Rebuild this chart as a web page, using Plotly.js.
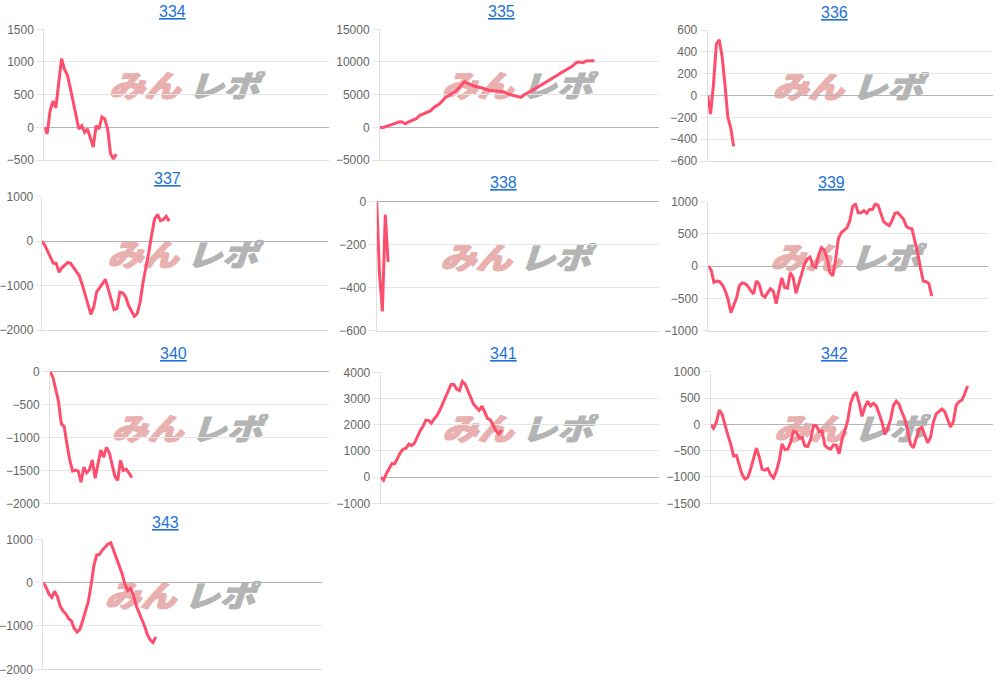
<!DOCTYPE html>
<html>
<head>
<meta charset="utf-8">
<script src="https://cdn.plot.ly/plotly-3.0.1.min.js"></script>
<style>
  html, body { margin: 0; padding: 0; background: #ffffff; }
  #chart { width: 997px; height: 681px; }
</style>
</head>
<body>
<div id="chart"></div>
<script>
// ---------------- data ----------------
const titles = ['334', '335', '336', '337', '338', '339', '340', '341', '342', '343'];

const s334 = [0, -100, 250, 400, 300, 660, 1050, 890, 800, 610, 400, 180, -25, 25, -75, -25, -180, -300, 25, -25, 160, 130, -25, -400, -485, -410];

const s335 = [0, -50, 100, 250, 400, 550, 650, 850, 800, 550, 800, 950, 1100, 1350, 1800, 2000, 2200, 2350, 2550, 3000,
  3300, 3550, 4000, 4500, 4750, 5000, 5300, 5600, 6050, 6500, 7000, 6750, 6500, 6350, 6250, 6200, 6050, 5900, 5750, 5600,
  5650, 5600, 5550, 5500, 5400, 5150, 5000, 4900, 4800, 4700, 4600, 4950, 5250, 5450, 5650, 5900, 6200, 6450, 6650, 6900,
  7150, 7450, 7700, 8000, 8300, 8550, 8800, 9000, 9300, 9700, 10000, 9950, 9900, 10150, 10200, 10200, 10200];

const s336 = [0, -170, 100, 470, 510, 360, 100, -200, -296, -464];

const s337 = [0, -80, -220, -370, -500, -500, -700, -600, -530, -480, -500, -600, -670, -780, -980, -1215, -1420, -1650, -1480, -1140,
  -1050, -940, -860, -1080, -1340, -1540, -1520, -1150, -1170, -1250, -1450, -1560, -1690, -1630, -1370, -930, -620, -250, 150, 500,
  600, 460, 480, 560, 450];

const s338 = [0, -340, -510, -60, -280];

const s339 = [0, -60, -250, -230, -240, -290, -380, -520, -720, -600, -490, -300, -260, -270, -310, -380, -430, -230, -280, -445,
  -480, -410, -350, -390, -580, -370, -180, -330, -340, -100, -175, -420, -280, -110, 30, 110, 140, 0, -20, 170,
  290, 250, 120, -100, -150, 100, 430, 520, 560, 595, 700, 920, 970, 830, 830, 860, 820, 880, 880, 960,
  950, 830, 690, 655, 630, 710, 820, 830, 780, 730, 620, 590, 580, 410, 210, -25, -230, -240, -270, -465];

const s340 = [0, -80, -260, -450, -790, -830, -1100, -1340, -1510, -1495, -1510, -1680, -1450, -1534, -1490, -1340, -1620, -1400, -1190, -1300,
  -1150, -1230, -1400, -1590, -1650, -1350, -1500, -1480, -1540, -1610];

const s341 = [0, -120, 130, 320, 520, 510, 720, 940, 1070, 1100, 1260, 1200, 1300, 1550, 1760, 1930, 2170, 2160, 2060, 2220,
  2350, 2550, 2810, 3020, 3310, 3535, 3535, 3360, 3300, 3650, 3550, 3290, 3020, 2780, 2660, 2550, 2710, 2500, 2230, 2180,
  1990, 1760, 1640, 1790];

const s342 = [0, -75, 40, 270, 190, -20, -200, -370, -600, -590, -765, -950, -1040, -1010, -850, -630, -450, -620, -850, -870,
  -840, -960, -1020, -890, -690, -370, -480, -470, -340, -130, -150, -260, -250, -410, -420, -290, -20, -30, -135, -125,
  -400, -450, -470, -390, -400, -560, -290, -120, 70, 400, 550, 610, 410, 150, 330, 440, 350, 400, 350, 200,
  40, -190, -80, 90, 360, 440, 380, 230, 100, -120, -380, -445, -280, -90, -60, -220, -350, -250, 40, 200,
  240, 290, 240, 80, -50, 50, 360, 430, 460, 580, 730];

const s343 = [0, -110, -260, -340, -200, -320, -540, -650, -720, -830, -885, -1060, -1140, -1080, -880, -640, -440, -50, 400, 640,
  650, 750, 830, 890, 920, 750, 580, 420, 210, -30, -180, -130, -280, -530, -690, -830, -1000, -1200, -1320, -1380,
  -1250];

const seriesList = [s334, s335, s336, s337, s338, s339, s340, s341, s342, s343];

const yMin = [-500, -5000, -600, -2000, -600, -1000, -2000, -1000, -1500, -2000];
const yMax = [1500, 15000, 600, 1000, 0, 1000, 0, 4000, 1000, 1000];
const yStep = [500, 5000, 200, 1000, 200, 500, 500, 1000, 500, 1000];
const slotCount = 100;

// ---------------- layout geometry (pixels) ----------------
const W = 997, H = 681;
// [left, right, top, bottom] of each plot area
const boxes = [
  [44.3, 329.3, 29.3, 160.0],
  [380.0, 659.3, 29.3, 160.0],
  [707.7, 992.7, 30.0, 161.0],
  [41.7, 328.3, 196.7, 330.0],
  [376.7, 659.3, 201.7, 330.7],
  [708.3, 988.3, 201.7, 330.7],
  [50.0, 329.3, 371.7, 503.3],
  [380.7, 659.3, 372.3, 503.3],
  [710.7, 993.3, 371.7, 503.3],
  [43.3, 321.7, 539.3, 669.3]
];
const tickLens = [7, 7, 7, 5, 7, 7, 7, 7, 7, 7];
const titlePos = [
  [172, 11], [502, 11], [834, 12],
  [167, 178], [503, 183], [831, 183],
  [173, 353], [503, 353], [834, 353],
  [165, 522]
];

const LINE = '#fd4f6d';
const GRID = '#e6e6e6';
const TICKTXT = '#666666';
const TITLE = '#1f72d4';
const FONT = 'Liberation Sans, Arial, sans-serif';

// watermark logo as an SVG image
const wmSvg =
  "<svg xmlns='http://www.w3.org/2000/svg' width='160' height='30' viewBox='0 0 160 30'>" +
  "<g transform='translate(9,0) skewX(-18)'>" +
  "<text x='1' y='27' font-family='Noto Sans CJK JP' font-weight='900' font-size='31' fill='#e9b0b0' stroke='#e9b0b0' stroke-width='1.6' stroke-linejoin='round' textLength='72' lengthAdjust='spacingAndGlyphs'>みん</text>" +
  "<text x='81' y='27' font-family='Noto Sans CJK JP' font-weight='900' font-size='31' fill='#b4b4b4' stroke='#b4b4b4' stroke-width='1.0' stroke-linejoin='round' textLength='72' lengthAdjust='spacingAndGlyphs'>レポ</text>" +
  "</g></svg>";
const wmSrc = 'data:image/svg+xml;charset=utf-8,' + encodeURIComponent(wmSvg);

const traces = [];
const layout = {
  width: W, height: H,
  margin: {l: 0, r: 0, t: 0, b: 0},
  paper_bgcolor: '#ffffff',
  plot_bgcolor: 'rgba(0,0,0,0)',
  showlegend: false,
  font: {family: FONT, size: 12, color: TICKTXT},
  annotations: [],
  images: []
};

seriesList.forEach((vals, k) => {
  const n = k + 1;
  const xa = n === 1 ? 'x' : 'x' + n;
  const ya = n === 1 ? 'y' : 'y' + n;
  const xKey = n === 1 ? 'xaxis' : 'xaxis' + n;
  const yKey = n === 1 ? 'yaxis' : 'yaxis' + n;
  const [l, r, t, b] = boxes[k];

  traces.push({
    type: 'scatter', mode: 'lines',
    x: vals.map((_, i) => i), y: vals,
    xaxis: xa, yaxis: ya,
    line: {color: LINE, width: 3, shape: 'linear'},
    hoverinfo: 'skip'
  });

  layout[xKey] = {
    domain: [l / W, r / W],
    anchor: ya,
    range: [0, slotCount - 1],
    showgrid: false, zeroline: false,
    showticklabels: false, ticks: '',
    showline: true, linecolor: '#dcdcdc', linewidth: 1,
    fixedrange: true
  };
  layout[yKey] = {
    domain: [1 - b / H, 1 - t / H],
    anchor: xa,
    range: [yMin[k], yMax[k]],
    tick0: 0, dtick: yStep[k],
    tickformat: 'd',
    showgrid: true, gridcolor: GRID, gridwidth: 1,
    zeroline: true, zerolinecolor: '#b4b4b4', zerolinewidth: 1,
    showline: true, linecolor: '#e0e0e0', linewidth: 1,
    ticks: 'outside', ticklen: tickLens[k], tickcolor: GRID,
    tickfont: {family: FONT, size: 12, color: TICKTXT},
    fixedrange: true
  };

  layout.annotations.push({
    xref: 'paper', yref: 'paper',
    x: titlePos[k][0] / W, y: 1 - titlePos[k][1] / H,
    xanchor: 'center', yanchor: 'middle',
    text: '<u>' + titles[k] + '</u>',
    showarrow: false,
    font: {family: FONT, size: 16, color: TITLE}
  });

  const cx = (l + r) / 2;
  const cy = (t + b) / 2 - 9;
  layout.images.push({
    source: wmSrc,
    xref: 'paper', yref: 'paper',
    x: cx / W, y: 1 - cy / H,
    sizex: 158 / W, sizey: 29 / H,
    xanchor: 'center', yanchor: 'middle',
    sizing: 'stretch',
    layer: 'below'
  });
});

Plotly.newPlot('chart', traces, layout, {displayModeBar: false, staticPlot: true});
</script>
</body>
</html>
